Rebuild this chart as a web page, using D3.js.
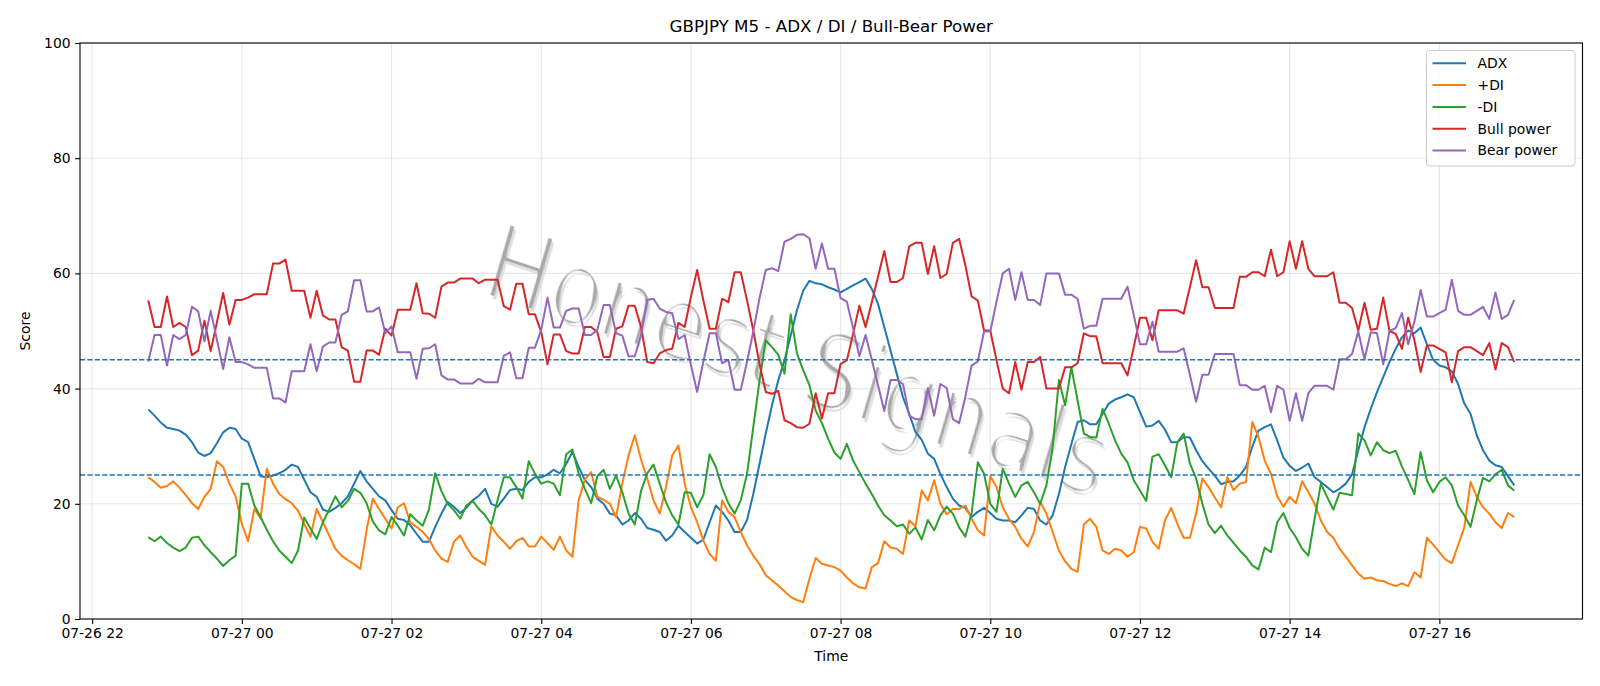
<!DOCTYPE html>
<html>
<head>
<meta charset="utf-8">
<script src="https://cdn.jsdelivr.net/npm/d3@7"></script>
<style>
  body { margin: 0; background: #fff; }
  svg text { font-family: "DejaVu Sans", sans-serif; fill: #000; }
</style>
</head>
<body>
<div id="chart-area"></div>
<script>
// 5 minute bars, first bar 07-26 22:45
const startTime = Date.UTC(2024, 6, 26, 22, 45);
const stepMinutes = 5;

const adx = [
  36.4,35.3,34.1,33.2,33.0,32.7,32.0,30.7,28.9,28.3, 28.8,30.5,32.4,33.2,33.0,31.3,30.7,27.8,24.8,24.6,
  24.9,25.3,25.9,26.8,26.4,24.2,22.0,21.2,19.0,18.6, 19.3,20.1,21.3,23.5,25.7,23.9,22.6,21.3,20.6,18.9,
  17.4,17.2,16.3,14.8,13.4,13.4,16.0,18.3,20.3,19.5, 18.4,19.3,20.6,21.4,22.6,20.0,19.5,20.9,22.4,22.6,
  22.4,23.8,24.6,24.6,25.1,25.9,25.3,26.9,29.0,26.4, 24.1,22.9,20.9,20.0,18.3,18.0,16.4,17.1,18.4,17.4,
  15.8,15.5,15.1,13.6,14.5,16.2,15.1,14.1,13.1,13.8, 16.8,19.7,18.6,17.1,15.1,15.1,17.2,21.7,26.9,32.2,
  37.1,41.4,44.9,49.2,53.6,57.0,58.7,58.3,58.1,57.6, 57.2,56.7,57.3,57.9,58.5,59.1,57.3,54.7,50.7,46.6,
  42.6,38.5,35.6,32.5,31.1,28.7,27.8,25.2,22.9,20.9, 19.7,19.3,17.7,18.6,19.3,18.4,17.4,17.1,17.1,16.8,
  18.0,19.3,19.1,17.1,16.4,18.0,21.7,26.4,30.4,34.2, 34.5,33.8,33.8,35.6,37.4,38.1,38.5,39.0,38.5,35.9,
  33.4,33.6,34.4,32.9,30.7,30.7,31.6,31.5,29.3,27.4, 26.1,24.9,23.4,23.8,23.9,24.9,26.4,29.9,32.7,33.3,
  33.8,31.0,28.0,26.6,25.7,26.3,27.0,24.6,23.8,22.9, 22.0,22.6,23.5,25.1,29.3,33.3,36.5,39.4,42.0,44.6,
  46.9,48.9,50.1,49.6,50.6,47.7,45.0,44.0,43.7,43.0, 40.8,37.4,35.6,31.9,29.3,27.5,26.7,26.4,24.8,23.2
];

const plusDI = [
  24.6,23.8,22.8,23.1,23.9,22.8,21.5,20.1,19.1,21.2, 22.6,27.4,26.4,23.5,21.3,16.5,13.5,19.1,17.5,26.1,
  23.5,21.7,20.8,20.1,18.8,16.5,14.3,19.1,16.8,14.5, 12.2,11.0,10.2,9.5,8.7,15.4,20.9,19.1,17.4,15.7,
  19.4,20.1,16.8,16.0,15.1,13.9,11.9,10.5,9.9,13.4, 14.5,12.5,10.8,10.1,9.4,16.1,14.5,13.4,12.2,13.5,
  14.1,12.6,12.6,14.3,13.2,12.0,14.3,11.9,10.8,20.6, 24.2,25.5,21.2,20.7,20.0,17.7,23.5,28.4,31.9,27.7,
  24.4,20.6,18.3,22.9,28.4,30.1,23.5,19.4,16.8,13.6, 11.3,10.1,20.6,18.6,17.7,15.1,12.8,11.0,9.5,7.6,
  6.7,5.8,4.8,3.8,3.3,2.9,7.0,10.6,9.6,9.3, 9.0,8.4,7.2,6.2,5.5,5.3,9.0,9.7,13.5,12.4,
  12.2,11.3,17.1,16.1,22.3,20.6,24.1,20.0,18.2,19.1, 19.1,19.7,17.4,15.4,14.5,24.8,22.9,19.4,17.4,16.0,
  13.9,12.6,15.1,20.3,18.3,15.1,11.9,10.0,8.7,8.2, 16.4,17.4,16.0,11.9,11.3,12.2,11.9,10.8,11.6,16.0,
  15.7,13.4,12.2,17.1,19.3,16.5,14.1,14.1,18.3,24.4, 22.9,21.1,19.4,24.6,22.4,23.5,23.8,34.2,31.6,27.5,
  25.2,21.3,19.5,21.2,20.1,23.9,22.0,20.0,17.1,15.1, 14.1,12.2,10.8,9.3,7.9,7.0,7.2,6.7,6.6,6.1,
  5.7,6.2,5.7,8.1,7.2,14.1,12.9,11.6,10.3,9.7, 12.8,15.9,23.8,21.2,19.4,18.3,16.8,15.8,18.4,17.7
];

const minusDI = [
  14.2,13.5,14.3,13.2,12.4,11.8,12.4,14.1,14.3,12.8, 11.6,10.5,9.2,10.2,11.0,23.5,23.5,19.7,17.7,15.5,
  13.5,11.9,10.8,9.7,11.9,17.6,15.7,13.9,16.8,19.0, 21.3,19.4,20.5,22.6,21.9,20.1,16.9,15.4,14.7,17.7,
  16.2,14.5,18.2,17.1,16.2,19.0,25.3,22.2,20.0,18.9, 17.4,19.7,20.5,19.1,18.0,16.4,20.6,24.6,24.6,22.9,
  20.9,27.4,25.2,23.5,23.9,23.5,21.5,28.6,29.4,25.3, 22.6,20.1,24.8,25.9,22.6,24.9,22.0,18.3,16.4,22.2,
  25.3,26.8,23.5,20.3,18.0,16.4,22.0,21.9,19.4,21.5, 28.6,26.4,22.8,20.1,18.3,20.6,25.2,33.3,41.4,48.4,
  47.2,45.9,42.6,52.9,46.1,43.2,40.6,36.2,34.0,31.3, 28.9,27.8,30.4,27.5,25.5,23.5,21.7,19.7,18.0,17.1,
  16.1,16.4,14.8,15.9,13.8,17.2,15.4,18.0,19.5,18.3, 15.9,14.3,18.3,27.2,25.2,20.0,18.6,26.1,23.5,21.2,
  23.2,23.8,22.0,20.0,23.2,29.8,41.5,37.1,43.7,37.9, 32.2,31.6,31.5,36.5,33.9,31.0,28.7,27.2,24.1,22.3,
  20.5,28.2,28.6,26.7,24.6,30.7,32.2,27.0,24.4,20.0, 16.4,14.9,16.2,14.5,13.2,11.9,10.8,9.3,8.6,12.4,
  11.6,16.8,18.4,15.8,14.2,12.2,11.0,17.4,23.5,21.2, 19.0,21.9,21.7,21.5,32.2,31.0,28.4,30.7,29.3,28.8,
  29.2,26.5,24.1,21.7,29.0,24.1,22.0,23.8,24.6,23.2, 19.7,18.0,16.0,20.6,24.5,23.9,25.1,25.9,23.2,22.3
];

const bullPower = [
  55.3,50.7,50.7,56.0,50.7,51.4,50.7,45.8,46.6,51.8, 46.5,51.5,56.6,51.1,55.4,55.4,55.8,56.4,56.4,56.4,
  61.7,61.7,62.4,57.0,57.0,57.0,52.3,57.0,52.7,52.0, 52.0,47.2,46.6,41.2,41.2,46.6,46.6,45.9,50.4,49.2,
  53.7,53.7,53.7,58.3,53.1,53.0,52.3,57.7,58.4,58.4, 59.1,59.1,59.1,58.3,58.9,58.9,58.9,54.3,53.7,58.2,
  58.2,52.9,52.9,49.8,44.2,49.4,49.4,46.5,46.1,46.1, 50.7,50.7,49.8,45.5,45.5,50.4,50.8,54.4,54.4,50.7,
  44.6,44.4,46.1,46.7,46.9,51.4,50.7,55.9,60.6,55.3, 50.4,50.4,55.6,55.0,60.2,60.2,55.3,50.1,44.3,39.4,
  39.1,39.6,34.5,34.0,33.3,33.2,33.9,39.2,34.8,39.2, 39.2,44.3,44.9,49.5,54.4,50.7,55.0,59.4,63.9,58.5,
  58.5,59.2,64.7,65.3,65.3,59.9,64.7,59.2,59.9,65.3, 66.0,61.4,56.0,55.3,50.1,50.1,44.9,40.0,39.2,44.6,
  39.8,44.6,44.6,45.5,40.0,40.0,40.0,43.7,43.7,44.4, 49.6,49.1,49.1,44.4,44.4,44.4,44.4,42.3,47.2,52.3,
  52.3,48.4,53.6,53.6,53.6,53.6,53.0,57.6,62.3,57.6, 57.6,54.0,54.0,54.0,54.0,59.4,59.4,60.2,60.2,59.5,
  64.1,59.5,60.2,65.6,60.8,65.6,60.8,59.5,59.5,59.5, 60.2,54.9,54.9,54.0,50.1,54.9,50.2,50.4,55.8,50.0,
  49.5,46.9,52.3,48.4,42.9,47.5,47.5,46.9,46.3,41.1, 46.5,47.2,47.2,46.5,45.8,47.9,43.3,47.9,47.2,44.6
];

const bearPower = [
  44.7,49.3,49.3,44.0,49.3,48.6,49.3,54.2,53.4,48.2, 53.5,48.5,43.4,48.9,44.6,44.6,44.2,43.6,43.6,43.6,
  38.3,38.3,37.6,43.0,43.0,43.0,47.7,43.0,47.3,48.0, 48.0,52.8,53.4,58.8,58.8,53.4,53.4,54.1,49.6,50.8,
  46.3,46.3,46.3,41.7,46.9,47.0,47.7,42.3,41.6,41.6, 40.9,40.9,40.9,41.7,41.1,41.1,41.1,45.7,46.3,41.8,
  41.8,47.1,47.1,50.2,55.8,50.6,50.6,53.5,53.9,53.9, 49.3,49.3,50.2,54.5,54.5,49.6,49.2,45.6,45.6,49.3,
  55.4,55.6,53.9,53.3,53.1,48.6,49.3,44.1,39.4,44.7, 49.6,49.6,44.4,45.0,39.8,39.8,44.7,49.9,55.7,60.6,
  60.9,60.4,65.5,66.0,66.7,66.8,66.1,60.8,65.2,60.8, 60.8,55.7,55.1,50.5,45.6,49.3,45.0,40.6,36.1,41.5,
  41.5,40.8,35.3,34.7,34.7,40.1,35.3,40.8,40.1,34.7, 34.0,38.6,44.0,44.7,49.9,49.9,55.1,60.0,60.8,55.4,
  60.2,55.4,55.4,54.5,60.0,60.0,60.0,56.3,56.3,55.6, 50.4,50.9,50.9,55.6,55.6,55.6,55.6,57.7,52.8,47.7,
  47.7,51.6,46.4,46.4,46.4,46.4,47.0,42.4,37.7,42.4, 42.4,46.0,46.0,46.0,46.0,40.6,40.6,39.8,39.8,40.5,
  35.9,40.5,39.8,34.4,39.2,34.4,39.2,40.5,40.5,40.5, 39.8,45.1,45.1,46.0,49.9,45.1,49.8,49.6,44.2,50.0,
  50.5,53.1,47.7,51.6,57.1,52.5,52.5,53.1,53.7,58.9, 53.5,52.8,52.8,53.5,54.2,52.1,56.7,52.1,52.8,55.4
];

const seriesNames = ['ADX', '+DI', '-DI', 'Bull power', 'Bear power'];
const seriesColors = ['#1f77b4', '#ff7f0e', '#2ca02c', '#d62728', '#9467bd'];
const seriesValues = [adx, plusDI, minusDI, bullPower, bearPower];
const refLevels = [45, 25];
const yTicks = [0, 20, 40, 60, 80, 100];

const times = adx.map((d, i) => new Date(startTime + i * stepMinutes * 60000));

const margin = { left: 80, right: 17.5, top: 43, bottom: 67 };
const width = 1600 - margin.left - margin.right;
const height = 686 - margin.top - margin.bottom;

const svg = d3.select('#chart-area').append('svg')
  .attr('width', 1600)
  .attr('height', 686);

// thin stroke filter for the watermark
const thin = svg.append('defs').append('filter')
  .attr('id', 'thin')
  .attr('x', '-20%').attr('y', '-60%')
  .attr('width', '140%').attr('height', '220%');
thin.append('feMorphology')
  .attr('operator', 'erode')
  .attr('radius', 2.1);

const g = svg.append('g')
  .attr('transform', `translate(${margin.left}, ${margin.top})`);

// x scale with matplotlib style 5% margins
const t0 = times[0].getTime();
const t1 = times[times.length - 1].getTime();
const pad = (t1 - t0) * 0.05;
const x = d3.scaleUtc()
  .domain([new Date(t0 - pad), new Date(t1 + pad)])
  .range([0, width]);

const y = d3.scaleLinear()
  .domain([0, 100])
  .range([height, 0]);

// grid
const xTickVals = x.ticks(d3.utcHour.every(2));
g.append('g').selectAll('line')
  .data(xTickVals)
  .enter().append('line')
    .attr('x1', d => x(d)).attr('x2', d => x(d))
    .attr('y1', 0).attr('y2', height)
    .attr('stroke', '#b0b0b0').attr('stroke-opacity', 0.3).attr('stroke-width', 1.1);
g.append('g').selectAll('line')
  .data(yTicks)
  .enter().append('line')
    .attr('x1', 0).attr('x2', width)
    .attr('y1', d => y(d)).attr('y2', d => y(d))
    .attr('stroke', '#b0b0b0').attr('stroke-opacity', 0.3).attr('stroke-width', 1.1);

// watermark
const wm = g.append('g')
  .attr('transform', `translate(${793 - margin.left}, ${398 - margin.top}) skewY(18.3) skewX(-7) scale(0.92, 1.25)`);
wm.append('text')
  .attr('x', 2.5).attr('y', 2.5)
  .attr('text-anchor', 'middle')
  .attr('font-size', '90px')
  .attr('font-style', 'italic')
  .attr('filter', 'url(#thin)')
  .style('fill', '#dedede')
  .text('Honest Signals');
wm.append('text')
  .attr('text-anchor', 'middle')
  .attr('font-size', '90px')
  .attr('font-style', 'italic')
  .attr('filter', 'url(#thin)')
  .style('fill', '#a9a9a9')
  .text('Honest Signals');

// series lines
const line = d3.line()
  .x((d, i) => x(times[i]))
  .y(d => y(d));

g.append('g').selectAll('path')
  .data(seriesValues)
  .enter().append('path')
    .attr('d', d => line(d))
    .attr('fill', 'none')
    .attr('stroke', (d, i) => seriesColors[i])
    .attr('stroke-width', 2)
    .attr('stroke-linejoin', 'round');

// reference levels
g.append('g').selectAll('line')
  .data(refLevels)
  .enter().append('line')
    .attr('x1', 0).attr('x2', width)
    .attr('y1', d => y(d)).attr('y2', d => y(d))
    .attr('stroke', '#1f77b4')
    .attr('stroke-width', 1.4)
    .attr('stroke-dasharray', '5.2,2.2');

// axes
const xAxisCall = d3.axisBottom(x)
  .tickValues(xTickVals)
  .tickFormat(d3.utcFormat('%m-%d %H'))
  .tickSize(4.9)
  .tickPadding(4.5);
const xAxis = g.append('g')
  .attr('class', 'x-axis')
  .attr('transform', `translate(0, ${height})`)
  .call(xAxisCall);

const yAxisCall = d3.axisLeft(y)
  .tickValues(yTicks)
  .tickSize(4.9)
  .tickPadding(4.5);
const yAxis = g.append('g')
  .attr('class', 'y-axis')
  .call(yAxisCall);

[xAxis, yAxis].forEach(a => {
  a.select('.domain').remove();
  a.selectAll('line').attr('stroke', '#000').attr('stroke-width', 1.1);
  a.selectAll('text').attr('font-size', '13.9px').attr('font-family', 'DejaVu Sans').style('fill', '#000');
});

// frame
g.append('rect')
  .attr('x', 0).attr('y', 0)
  .attr('width', width).attr('height', height)
  .attr('fill', 'none')
  .attr('stroke', '#000')
  .attr('stroke-width', 1.1);

// title and labels
svg.append('text')
  .attr('x', margin.left + width / 2)
  .attr('y', 32)
  .attr('text-anchor', 'middle')
  .attr('font-size', '16.7px')
  .text('GBPJPY M5 - ADX / DI / Bull-Bear Power');

svg.append('text')
  .attr('x', margin.left + width / 2)
  .attr('y', 661)
  .attr('text-anchor', 'middle')
  .attr('font-size', '13.9px')
  .text('Time');

svg.append('text')
  .attr('transform', `translate(30, ${margin.top + height / 2}) rotate(-90)`)
  .attr('text-anchor', 'middle')
  .attr('font-size', '13.9px')
  .text('Score');

// legend
const legend = svg.append('g')
  .attr('transform', 'translate(1426.5, 50.5)');
legend.append('rect')
  .attr('width', 148.5).attr('height', 115.5)
  .attr('rx', 3)
  .attr('fill', '#fff').attr('fill-opacity', 0.8)
  .attr('stroke', '#cccccc').attr('stroke-width', 1);
const items = legend.selectAll('g.item')
  .data(seriesNames)
  .enter().append('g')
    .attr('class', 'item')
    .attr('transform', (d, i) => `translate(0, ${12.8 + i * 21.8})`);
items.append('line')
  .attr('x1', 6).attr('x2', 39.5)
  .attr('stroke', (d, i) => seriesColors[i])
  .attr('stroke-width', 2);
items.append('text')
  .attr('x', 51)
  .attr('dy', '0.35em')
  .attr('font-size', '13.9px')
  .text(d => d);
</script>
</body>
</html>
